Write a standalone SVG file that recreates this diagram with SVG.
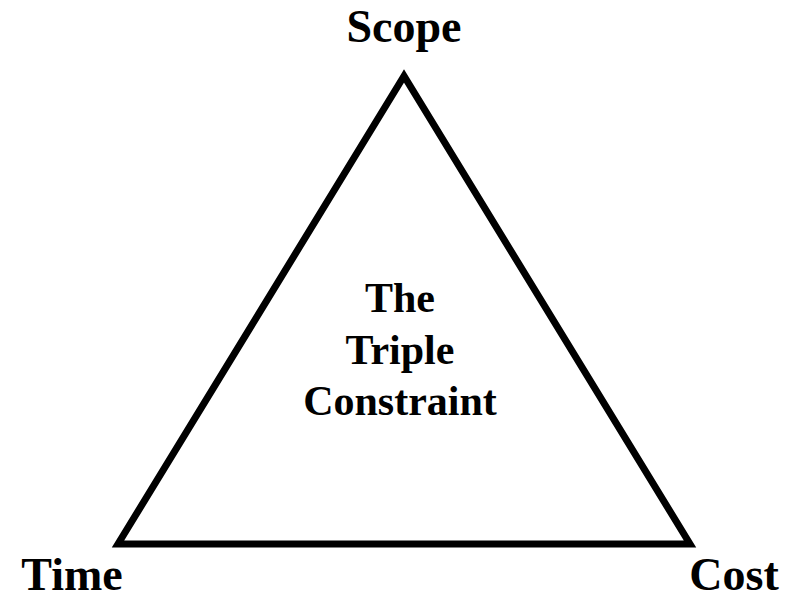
<svg xmlns="http://www.w3.org/2000/svg" width="796" height="599" viewBox="0 0 796 599">
<style>
text{font-family:'Liberation Serif','Times New Roman',Times,serif;font-weight:700;fill:#000;text-anchor:middle}
.big{font-size:46px}
.mid{font-size:42px}
</style>
<rect width="796" height="599" fill="#fff"/>
<g id="connectors">
<polygon points="404,76 118,544 690,544" fill="none" stroke="#000" stroke-width="7" stroke-linejoin="miter"/>
</g>
<g id="scope"><text class="big" x="404" y="42">Scope</text></g>
<g id="time"><text class="big" x="72" y="590">Time</text></g>
<g id="cost"><text class="big" x="734" y="590">Cost</text></g>
<g id="center">
<text class="mid" x="400" y="312">The</text>
<text class="mid" x="400" y="364">Triple</text>
<text class="mid" x="400" y="415">Constraint</text>
</g>
</svg>
